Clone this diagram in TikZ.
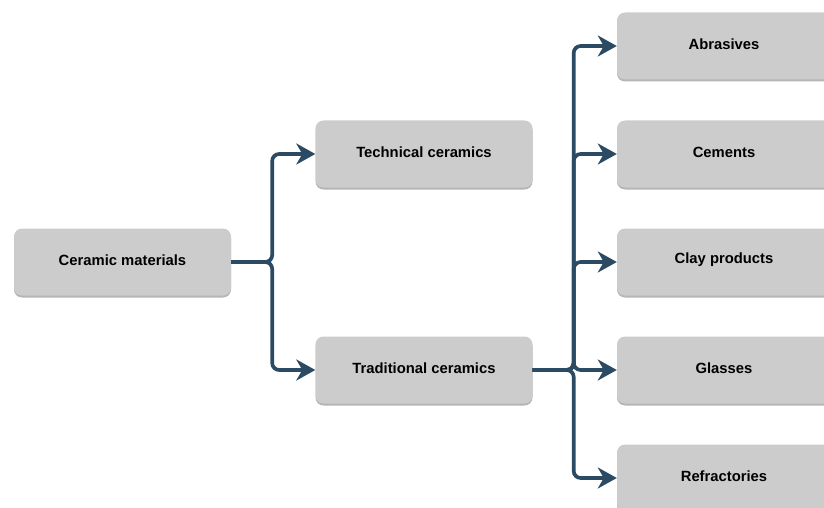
\documentclass[tikz,border=0pt]{standalone}
\usepackage{fontspec}
\setmainfont{Liberation Sans}
\usetikzlibrary{arrows.meta,shadows}
\definecolor{boxgray}{HTML}{CCCCCC}
\definecolor{shadowgray}{HTML}{B5B5B5}
\definecolor{linecol}{HTML}{2B4A63}
\tikzset{
  catbox/.style={rectangle, rounded corners=8pt, fill=boxgray, draw=none,
    minimum width=217pt, minimum height=67pt, inner sep=0pt,
    drop shadow={shadow xshift=0pt, shadow yshift=-2pt, fill=shadowgray, opacity=1}},
  lbl/.style={font=\fontsize{14.8}{16}\selectfont\bfseries, text=black, inner sep=0pt},
  conn/.style={draw=linecol, line width=3.7pt, rounded corners=7pt,
    -{Stealth[length=19pt,width=21pt,inset=6pt]}}
}
\begin{document}
\begin{tikzpicture}[x=1pt,y=-1pt]
\useasboundingbox (0,0) rectangle (824,508);
\node[catbox] (cm) at (122.5,262) {};
\node[catbox] (tc) at (424,154) {};
\node[catbox] (tr) at (424,370) {};
\node[catbox] (ab) at (725.5,46) {};
\node[catbox] (ce) at (725.5,154) {};
\node[catbox] (cp) at (725.5,262) {};
\node[catbox] (gl) at (725.5,370) {};
\node[catbox] (rf) at (725.5,478) {};
\node[lbl] (cmt) at ([yshift=2pt]cm.center) {Ceramic materials};
\node[lbl] (tct) at ([yshift=2pt]tc.center) {Technical ceramics};
\node[lbl] (trt) at ([yshift=2pt]tr.center) {Traditional ceramics};
\node[lbl] (abt) at ([xshift=-1.5pt,yshift=2pt]ab.center) {Abrasives};
\node[lbl] (cet) at ([xshift=-1.5pt,yshift=2pt]ce.center) {Cements};
\node[lbl] (cpt) at ([xshift=-1.5pt,yshift=2pt]cp.center) {Clay products};
\node[lbl] (glt) at ([xshift=-1.5pt,yshift=2pt]gl.center) {Glasses};
\node[lbl] (rft) at ([xshift=-1.5pt,yshift=2pt]rf.center) {Refractories};
\draw[conn] (cm.east) -- ++(41,0) |- (tc.west);
\draw[conn] (cm.east) -- ++(41,0) |- (tr.west);
\draw[conn] (tr.east) -- ++(41,0) |- (ab.west);
\draw[conn] (tr.east) -- ++(41,0) |- (ce.west);
\draw[conn] (tr.east) -- ++(41,0) |- (cp.west);
\draw[conn] (tr.east) -- ++(41,0) |- (gl.west);
\draw[conn] (tr.east) -- ++(41,0) |- (rf.west);
\end{tikzpicture}
\end{document}
